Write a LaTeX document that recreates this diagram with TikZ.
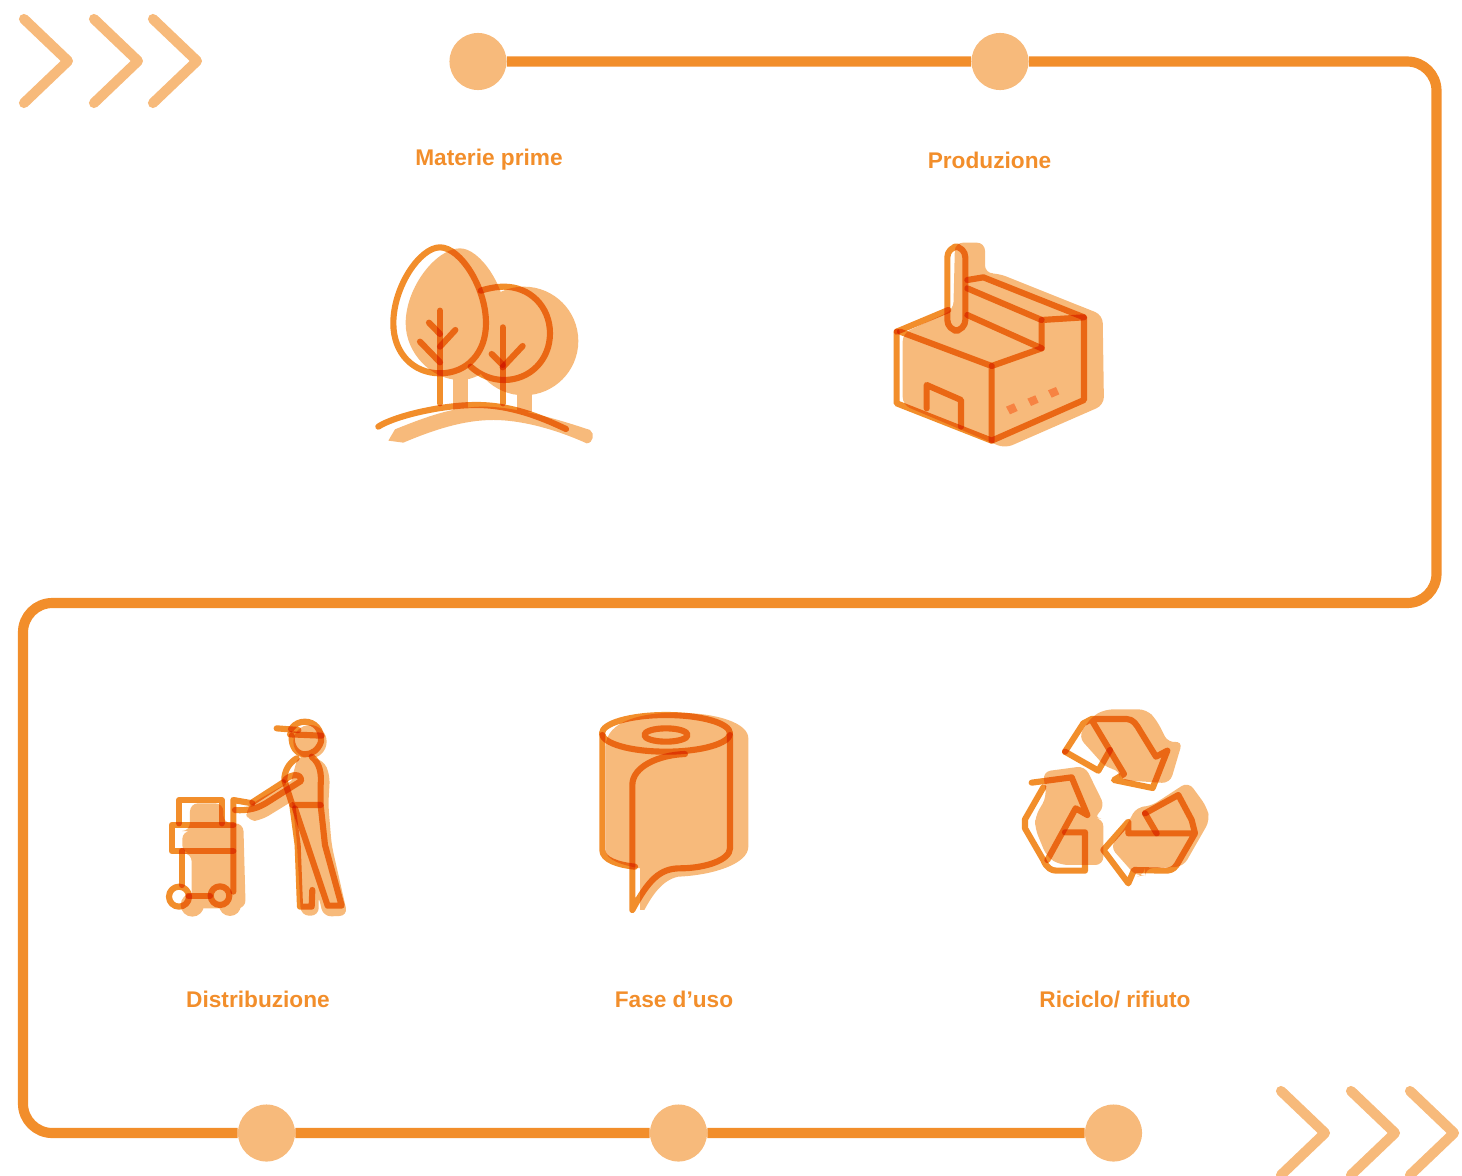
\documentclass[tikz,border=0pt]{standalone}
\usepackage{fontspec}
\setmainfont{Liberation Sans}
\usepackage{tikz}
\definecolor{routecol}{HTML}{F28E2B}
\definecolor{softcol}{HTML}{F7BA7B}
\tikzset{
  route line/.style={
    draw=routecol,
    line width=7.6pt,
    rounded corners=22pt
  },
  route dot/.style={
    circle,
    fill=softcol,
    minimum size=42.8pt,
    inner sep=0pt
  },
  chevron mark/.style={
    draw=softcol,
    line width=7.6pt,
    line cap=round,
    line join=round
  },
  stage label/.style={
    text=routecol,
    font=\fontsize{17}{20}\selectfont\bfseries
  },
  icon shadow/.style={
    fill=softcol,
    rounded corners=6pt
  },
  icon line/.style={
    draw=routecol,
    line width=4.6pt,
    line join=round,
    line cap=round,
    blend mode=multiply
  }
}
\begin{document}
\begin{tikzpicture}[x=0.75pt,y=-0.75pt]
    \useasboundingbox (0,0) rectangle (1462,1175);

    % ---------- percorso ----------
    \node[route dot] (matdot) at (478,61.5) {};
    \node[route dot] (proddot) at (1000,61.5) {};
    \node[route dot] (distdot) at (266.5,1133) {};
    \node[route dot] (usodot) at (678.5,1133) {};
    \node[route dot] (ricdot) at (1113.5,1133) {};
    \coordinate (turnNE) at (1436.5,61.5);
    \coordinate (turnSE) at (1436.5,603);
    \coordinate (turnNW) at (23,603);
    \coordinate (turnSW) at (23,1133);
    \draw[route line] (matdot) -- (proddot) -- (turnNE) -- (turnSE)
      -- (turnNW) -- (turnSW) -- (distdot) -- (usodot) -- (ricdot);

    % frecce
    \draw[chevron mark] (24,19) -- (68,61) -- (24,103);
    \draw[chevron mark] (94,19) -- (138,61) -- (94,103);
    \draw[chevron mark] (153,19) -- (197,61) -- (153,103);
    \draw[chevron mark] (1281,1091) -- (1325,1133) -- (1281,1175);
    \draw[chevron mark] (1351,1091) -- (1395,1133) -- (1351,1175);
    \draw[chevron mark] (1410,1091) -- (1454,1133) -- (1410,1175);

    % etichette
    \node[stage label] (matlabel) at (489,160) {Materie prime};
    \node[stage label] (prodlabel) at (989.5,160) {Produzione};
    \node[stage label] (distlabel) at (258,999) {Distribuzione};
    \node[stage label] (usolabel) at (674,999) {Fase d’uso};
    \node[stage label] (riclabel) at (1115,999) {Riciclo/ rifiuto};

    % ---------- alberi ----------
    \begin{scope}[shift={(360,230)},scale=0.3333]
      \fill[softcol] (300,55) .. controls (360,55) and (440,170) .. (440,280)
        .. controls (440,370) and (380,450) .. (300,450)
        .. controls (215,450) and (137,370) .. (137,280)
        .. controls (137,170) and (230,55) .. (300,55) -- cycle;
      \fill[softcol] (492,333) circle (163);
      \fill[softcol] (280,440) rectangle (325,540);
      \fill[softcol] (470,470) rectangle (515,545);
      \fill[softcol] (85,632) -- (105,598) .. controls (200,560) and (280,530) .. (370,530)
        .. controls (470,530) and (600,570) .. (690,600)
        .. controls (705,610) and (700,640) .. (680,640)
        .. controls (580,595) and (480,570) .. (400,570)
        .. controls (310,570) and (220,600) .. (130,638) -- cycle;

      \draw[icon line] (240,52) .. controls (300,52) and (378,170) .. (378,280)
        .. controls (378,370) and (320,430) .. (240,430)
        .. controls (160,430) and (100,370) .. (100,280)
        .. controls (100,170) and (180,52) .. (240,52) -- cycle;
      \draw[icon line] (362,182) .. controls (385,175) and (410,170) .. (432,170)
        .. controls (510,170) and (570,230) .. (570,310)
        .. controls (570,390) and (510,450) .. (432,450)
        .. controls (395,450) and (360,435) .. (332,410);
      \draw[icon line] (240,242) -- (240,520);
      \draw[icon line] (180,335) -- (240,397);
      \draw[icon line] (286,300) -- (240,350);
      \draw[icon line] (207,278) -- (240,312);
      \draw[icon line] (428,292) -- (428,520);
      \draw[icon line] (395,372) -- (428,405);
      \draw[icon line] (488,348) -- (428,412);
      \draw[icon line] (55,590) .. controls (100,560) and (240,525) .. (350,525)
        .. controls (450,525) and (540,560) .. (618,597);
    \end{scope}

    % ---------- fabbrica ----------
    \begin{scope}[shift={(880,230)},scale=0.3333]
      \path[icon shadow] (68,310) -- (220,240) -- (225,38) -- (315,38) -- (315,130)
        -- (355,130) -- (668,255) -- (672,525) -- (375,655) -- (68,525) -- cycle;

      \draw[icon line] (50,305) -- (50,520) -- (335,632) -- (612,510) -- (612,262)
        -- (310,142) -- (262,150);
      \draw[icon line] (50,305) -- (205,240);
      \draw[icon line] (60,305) -- (335,408) -- (335,632);
      \draw[icon line] (335,408) -- (485,355) -- (485,270) -- (612,262);
      \draw[icon line] (262,175) -- (485,270);
      \draw[icon line] (262,255) -- (485,355);
      \draw[icon line,rounded corners=8pt] (202,50) rectangle (256,302);
      \draw[icon line] (140,535) -- (140,465) -- (243,510) -- (243,590);
      \fill[softcol!50!routecol!80!red] (378,530) -- (402,520) -- (413,543) -- (390,553) -- cycle;
      \fill[softcol!50!routecol!80!red] (442,506) -- (466,496) -- (476,518) -- (453,528) -- cycle;
      \fill[softcol!50!routecol!80!red] (504,481) -- (528,471) -- (538,493) -- (515,503) -- cycle;
    \end{scope}

    % ---------- distribuzione ----------
    \begin{scope}[shift={(155,705)},scale=0.3333]
      \path[icon shadow] (105,295) -- (205,295) -- (205,355) -- (265,355) -- (272,610)
        -- (110,610) -- (110,445) -- (82,445) -- (82,378) -- (105,378) -- cycle;
      \fill[softcol] (225,600) circle (33);
      \fill[softcol] (112,600) circle (35);
      \path[icon shadow] (270,315) -- (280,350) -- (320,345) -- (450,265) -- (440,210) -- (300,290) -- cycle;
      \fill[softcol] (465,110) circle (50);
      \path[icon shadow] (430,150) -- (505,165) -- (525,210) -- (520,300) -- (530,420)
        -- (578,632) -- (505,635) -- (490,570) -- (492,632) -- (438,632) -- (425,400) -- (405,240) -- cycle;

      \draw[icon line] (365,70) -- (430,75);
      \draw[icon line] (405,88) -- (500,92);
      \draw[icon line] (408,72) .. controls (420,55) and (435,50) .. (450,50)
        .. controls (480,50) and (502,75) .. (498,110)
        .. controls (490,135) and (470,148) .. (450,148)
        .. controls (425,148) and (408,125) .. (410,92);
      \draw[icon line] (470,155) .. controls (495,175) and (500,205) .. (497,240)
        -- (497,300) -- (510,420) -- (560,602) -- (518,602) -- (420,310);
      \draw[icon line] (425,160) .. controls (400,175) and (388,200) .. (388,225)
        -- (412,300) -- (497,300);
      \draw[icon line] (412,300) -- (428,420) -- (435,605) -- (470,605) -- (472,555);
      \draw[icon line] (390,225) .. controls (410,205) and (440,205) .. (438,228)
        -- (340,290) .. controls (310,310) and (280,318) .. (240,315);
      \draw[icon line] (292,292) -- (385,232);
      \draw[icon line] (292,295) -- (235,285) -- (235,560);
      \draw[icon line] (72,355) -- (72,285) -- (200,285) -- (200,355);
      \draw[icon line] (235,360) -- (50,360) -- (50,438) -- (235,438);
      \draw[icon line] (80,438) -- (80,540);
      \draw[icon line] (100,572) -- (165,572);
      \draw[icon line] (72,575) circle (30);
      \draw[icon line] (195,572) circle (28);
    \end{scope}

    % ---------- rotolo ----------
    \begin{scope}[shift={(585,700)},scale=0.3333]
      \fill[softcol] (62,140) .. controls (62,60) and (180,38) .. (270,38)
        .. controls (400,38) and (490,70) .. (490,115) -- (490,440)
        .. controls (490,490) and (390,525) .. (280,530)
        .. controls (230,540) and (200,590) .. (178,630) -- (165,630) -- (165,505)
        .. controls (110,495) and (62,480) .. (62,450) -- cycle;

      \draw[icon line] (243,100) ellipse (192 and 55);
      \draw[icon line] (243,105) ellipse (65 and 20);
      \draw[icon line] (52,105) -- (52,450) .. controls (52,480) and (100,495) .. (150,500);
      \draw[icon line] (300,162) .. controls (220,165) and (142,200) .. (142,255) -- (142,630)
        .. controls (190,540) and (225,505) .. (285,505)
        .. controls (360,505) and (435,480) .. (435,445) -- (435,105);
    \end{scope}

    % ---------- riciclo ----------
    \begin{scope}[shift={(1010,700)},scale=0.3333]
      \path[icon shadow] (205,110) -- (245,50) -- (285,28) -- (410,28) -- (440,60) -- (475,130)
        -- (518,122) -- (480,250) -- (330,240) -- (330,210) -- (290,205) -- cycle;
      \path[icon shadow] (98,215) -- (225,198) -- (285,320) -- (250,355) -- (280,355) -- (280,495)
        -- (150,495) -- (110,470) -- (75,385) -- (75,350) -- (110,290) -- cycle;
      \path[icon shadow] (420,320) -- (535,245) -- (590,320) -- (600,360) -- (560,430) -- (520,500)
        -- (405,505) -- (405,525) -- (380,530) -- (300,440) -- (345,385) -- (380,320) -- cycle;

      \draw[icon line] (165,155) -- (220,70) -- (245,57) -- (350,57)
        .. controls (370,57) and (380,75) .. (390,92)
        -- (438,170) -- (472,152) -- (428,264) -- (312,240) -- (342,222) -- (245,60);
      \draw[icon line] (300,150) -- (265,212) -- (165,155);
      \draw[icon line] (65,248) -- (185,232) -- (232,345) -- (197,325) -- (112,480);
      \draw[icon line] (100,262) -- (45,358) -- (45,385) -- (100,480)
        .. controls (110,505) and (125,512) .. (140,512) -- (225,512) -- (225,397) -- (165,397);
      \draw[icon line] (405,340) -- (505,285) -- (545,360) -- (555,400) -- (500,495)
        .. controls (490,510) and (478,512) .. (465,512) -- (372,510) -- (355,550) -- (280,450)
        -- (355,365) -- (355,400) -- (550,400);
      \draw[icon line] (405,340) -- (440,400);
    \end{scope}

  \end{tikzpicture}
\end{document}
